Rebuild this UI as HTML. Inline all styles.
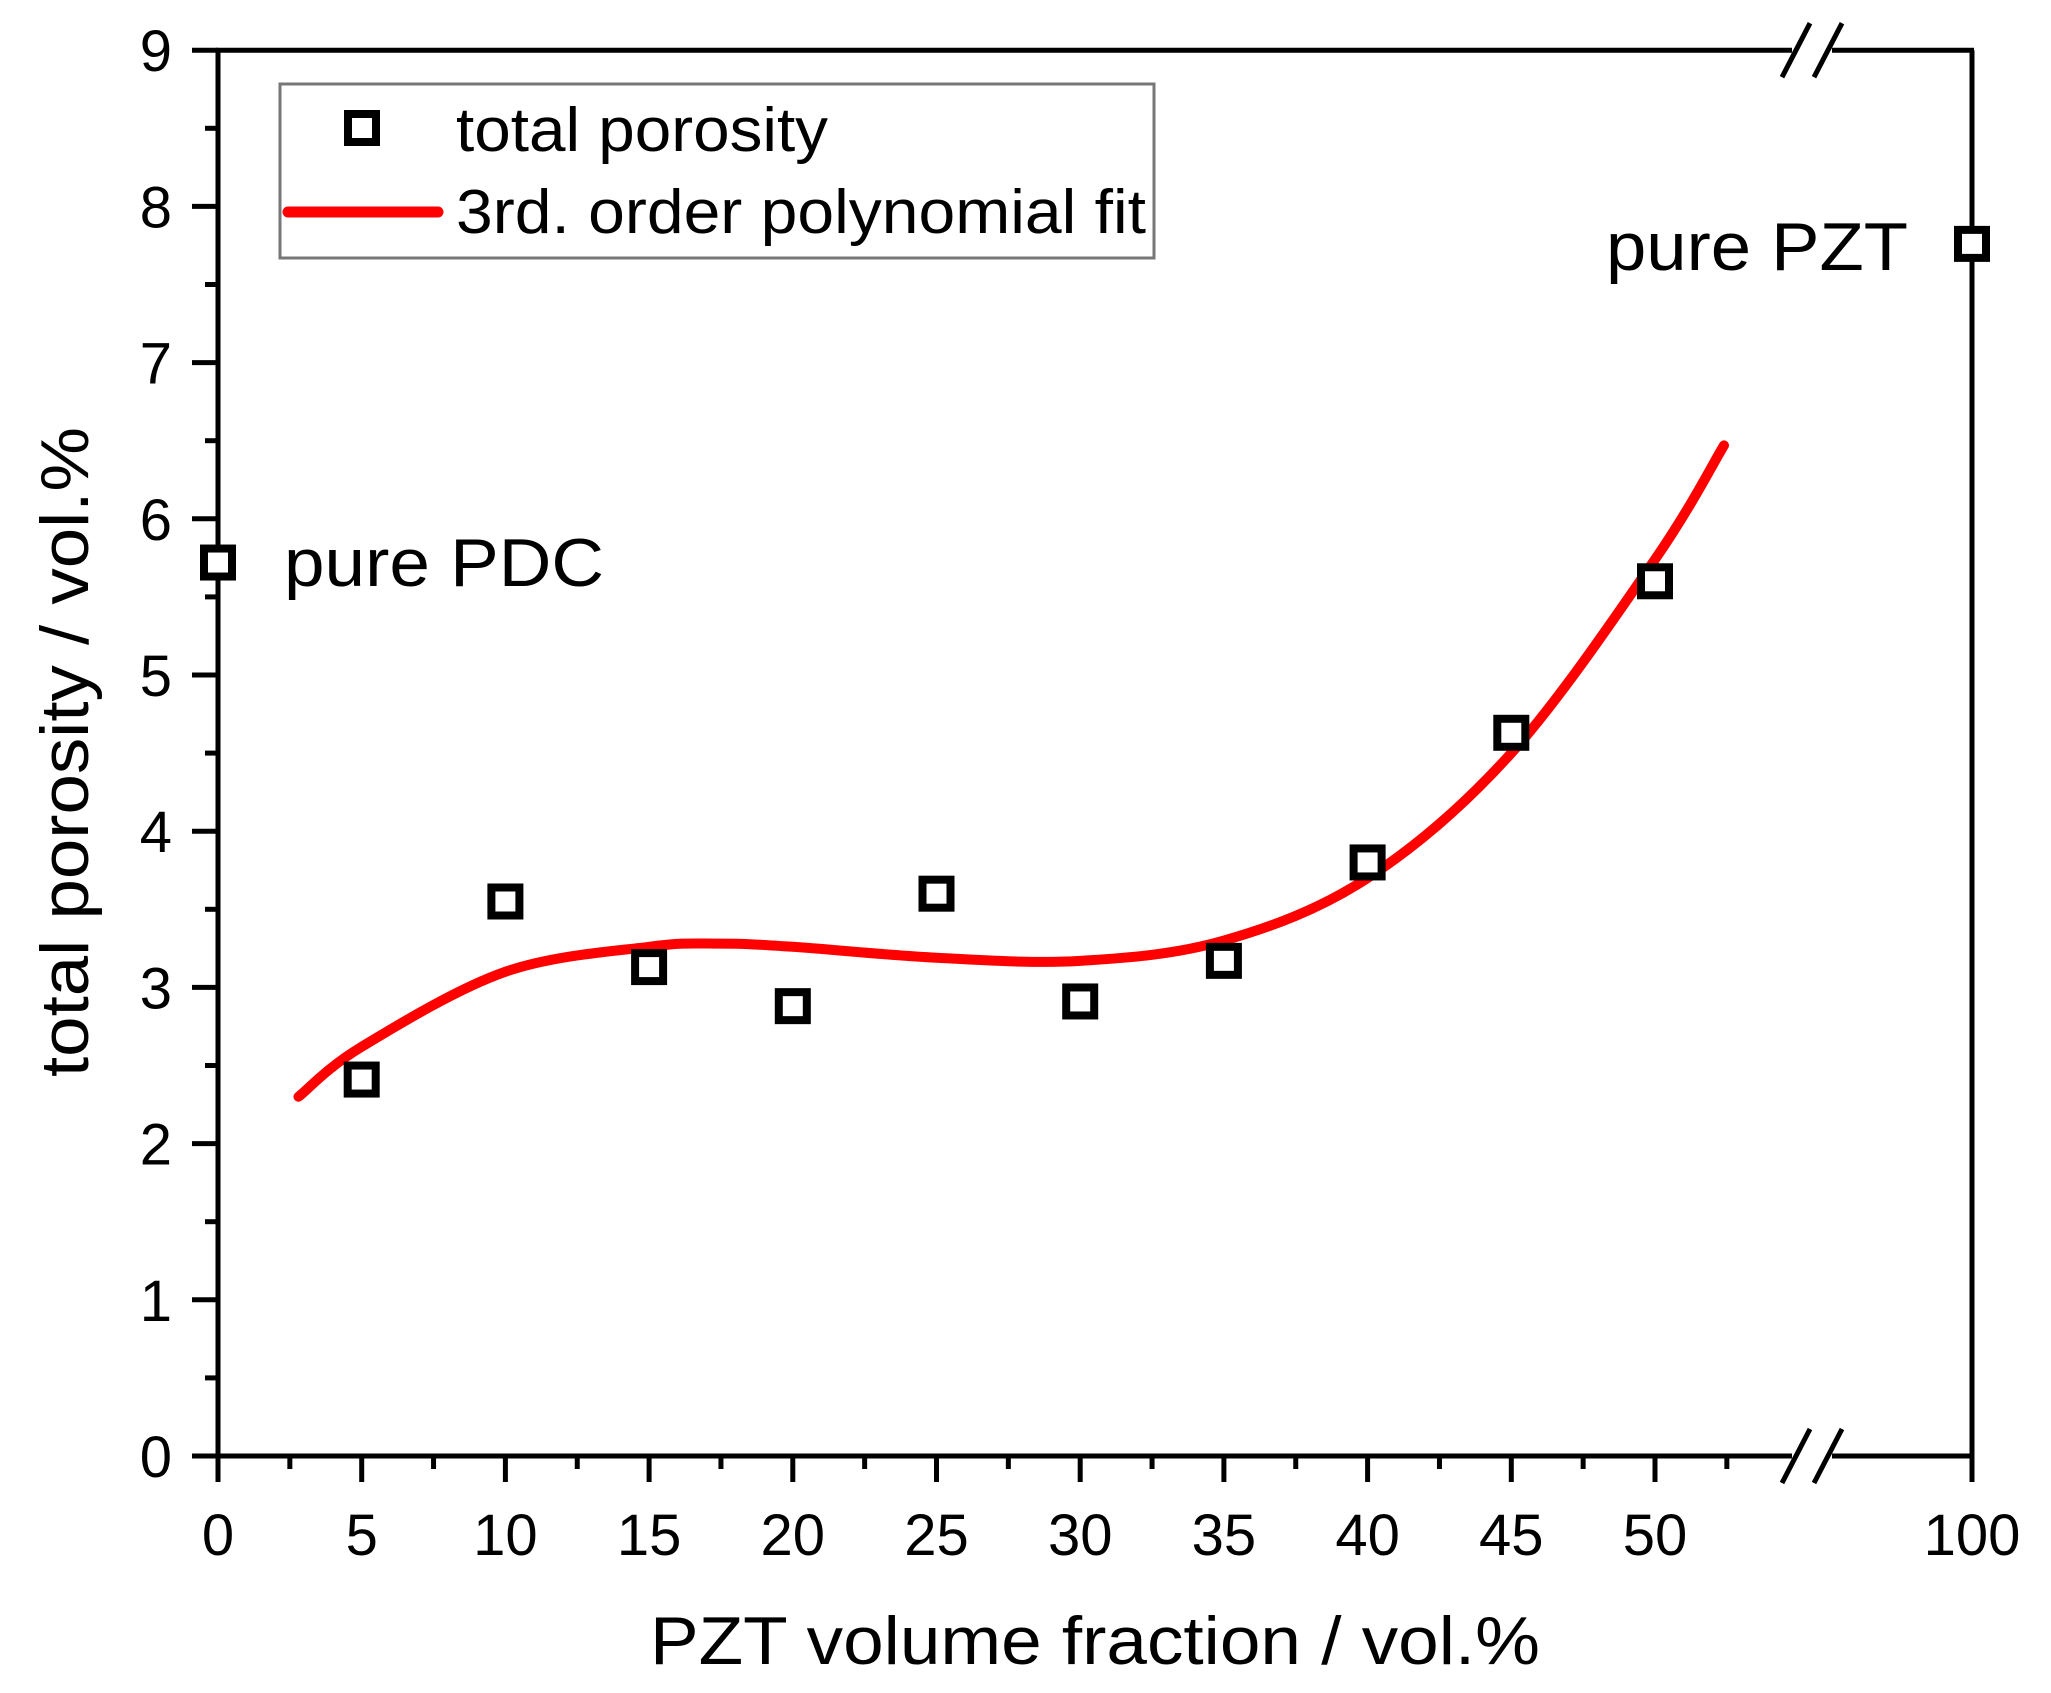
<!DOCTYPE html>
<html><head><meta charset="utf-8"><style>
html,body{margin:0;padding:0;background:#fff;}
svg{display:block;font-family:"Liberation Sans",Arial,sans-serif;}
</style></head><body>
<svg id="chart" width="2051" height="1693" viewBox="0 0 2051 1693" xmlns="http://www.w3.org/2000/svg">
<g id="axes"></g>
<g id="fit"></g>
<g id="pts"></g>
<g id="legend">
  <rect x="280" y="84" width="874" height="174" fill="#fff" stroke="#777" stroke-width="3"/>
  <rect x="348" y="114" width="28" height="28" fill="#fff" stroke="#000" stroke-width="8"/>
  <text x="456" y="151" font-size="62" textLength="372" lengthAdjust="spacingAndGlyphs">total porosity</text>
  <line x1="288" y1="212" x2="438" y2="212" stroke="#f00" stroke-width="11" stroke-linecap="round"/>
  <text x="456" y="233" font-size="62" textLength="690" lengthAdjust="spacingAndGlyphs">3rd. order polynomial fit</text>
</g>
<text x="284" y="586" font-size="68" textLength="320" lengthAdjust="spacingAndGlyphs">pure PDC</text>
<text x="1606" y="270" font-size="68" textLength="302" lengthAdjust="spacingAndGlyphs">pure PZT</text>
<text x="1095" y="1664" font-size="68" text-anchor="middle" textLength="890" lengthAdjust="spacingAndGlyphs">PZT volume fraction / vol.%</text>
<text transform="translate(88,752) rotate(-90)" font-size="68" text-anchor="middle" textLength="650" lengthAdjust="spacingAndGlyphs">total porosity / vol.%</text>
</svg>
<script>
const xCats = [0,5,10,15,20,25,30,35,40,45,50,100];
const porosity = [5.72,2.41,3.55,3.13,2.88,3.60,2.91,3.17,3.80,4.63,5.60,7.76];
const fitX = [2.8,5,10,15,17.5,20,25,30,35,40,45,50,52.4];
const fitY = [2.30,2.62,3.10,3.26,3.28,3.26,3.19,3.17,3.30,3.70,4.50,5.74,6.47];
const xTicks = ["0","5","10","15","20","25","30","35","40","45","50"];
const yTicks = ["0","1","2","3","4","5","6","7","8","9"];

const NS="http://www.w3.org/2000/svg";
const X0=218, PXU=28.74, BRK=1812, XR=1972, Y0=1456, PYU=156.2, YTOP=Y0-9*PYU;
function sx(v){ return v>=75 ? XR : X0+v*PXU; }
function sy(v){ return Y0-v*PYU; }
function mk(tag,attrs,parent){ const e=document.createElementNS(NS,tag); for(const k in attrs) e.setAttribute(k,attrs[k]); parent.appendChild(e); return e; }

const axes=document.getElementById('axes');
let l;
l=mk('path',{d:`M${X0},${YTOP} L${X0},${Y0+2}`,stroke:'#000','stroke-width':5,fill:'none'},axes);
 
l=mk('path',{d:`M${XR},${YTOP} L${XR},${Y0}`,stroke:'#000','stroke-width':5,fill:'none'},axes);
 
[Y0,YTOP].forEach((yy,i)=>{
  const p=mk('path',{d:`M${X0-2},${yy} L${BRK-20},${yy} M${BRK+20},${yy} L${XR+2},${yy}`,stroke:'#000','stroke-width':5,fill:'none'},axes);
  
  
  const b=mk('path',{d:`M${BRK-30},${yy+27} L${BRK-2},${yy-27} M${BRK+2},${yy+27} L${BRK+30},${yy-27}`,stroke:'#000','stroke-width':5,fill:'none'},axes);
  
  
});
for(let v=0; v<=52.5; v+=2.5){
  const major = v%5===0;
  const t=mk('line',{x1:sx(v),x2:sx(v),y1:Y0,y2:Y0+(major?26:13),stroke:'#000','stroke-width':5},axes);
  
  
}
const t100=mk('line',{x1:XR,x2:XR,y1:Y0,y2:Y0+26,stroke:'#000','stroke-width':5},axes);


xTicks.forEach(s=>{
  const t=mk('text',{x:sx(+s),y:1555,'font-size':58,'text-anchor':'middle'},axes);
  t.textContent=s;
  
  
});
const lab100=mk('text',{x:XR,y:1555,'font-size':58,'text-anchor':'middle'},axes);
lab100.textContent="100";


for(let v=0; v<=9; v+=0.5){
  const major = v%1===0;
  const t=mk('line',{x1:X0,x2:X0-(major?26:13),y1:sy(v),y2:sy(v),stroke:'#000','stroke-width':5},axes);
  
  
}
yTicks.forEach(s=>{
  const t=mk('text',{x:172,y:sy(+s)+21,'font-size':58,'text-anchor':'end'},axes);
  t.textContent=s;
  
  
});
const P=fitX.map((x,i)=>[sx(x),sy(fitY[i])]);
let d=`M${P[0][0]},${P[0][1]}`;
for(let i=0;i<P.length-1;i++){
  const p0=P[Math.max(0,i-1)],p1=P[i],p2=P[i+1],p3=P[Math.min(P.length-1,i+2)];
  const c1=[p1[0]+(p2[0]-p0[0])/6,p1[1]+(p2[1]-p0[1])/6];
  const c2=[p2[0]-(p3[0]-p1[0])/6,p2[1]-(p3[1]-p1[1])/6];
  d+=` C${c1[0]},${c1[1]} ${c2[0]},${c2[1]} ${p2[0]},${p2[1]}`;
}
const fit=mk('path',{d:d,stroke:'#f00','stroke-width':10,fill:'none','stroke-linecap':'round'},document.getElementById('fit'));


const pts=document.getElementById('pts');
xCats.forEach((x,i)=>{
  const r=mk('rect',{x:sx(x)-14,y:sy(porosity[i])-14,width:28,height:28,fill:'#fff',stroke:'#000','stroke-width':8},pts);
  
  
});
</script>
</body></html>
